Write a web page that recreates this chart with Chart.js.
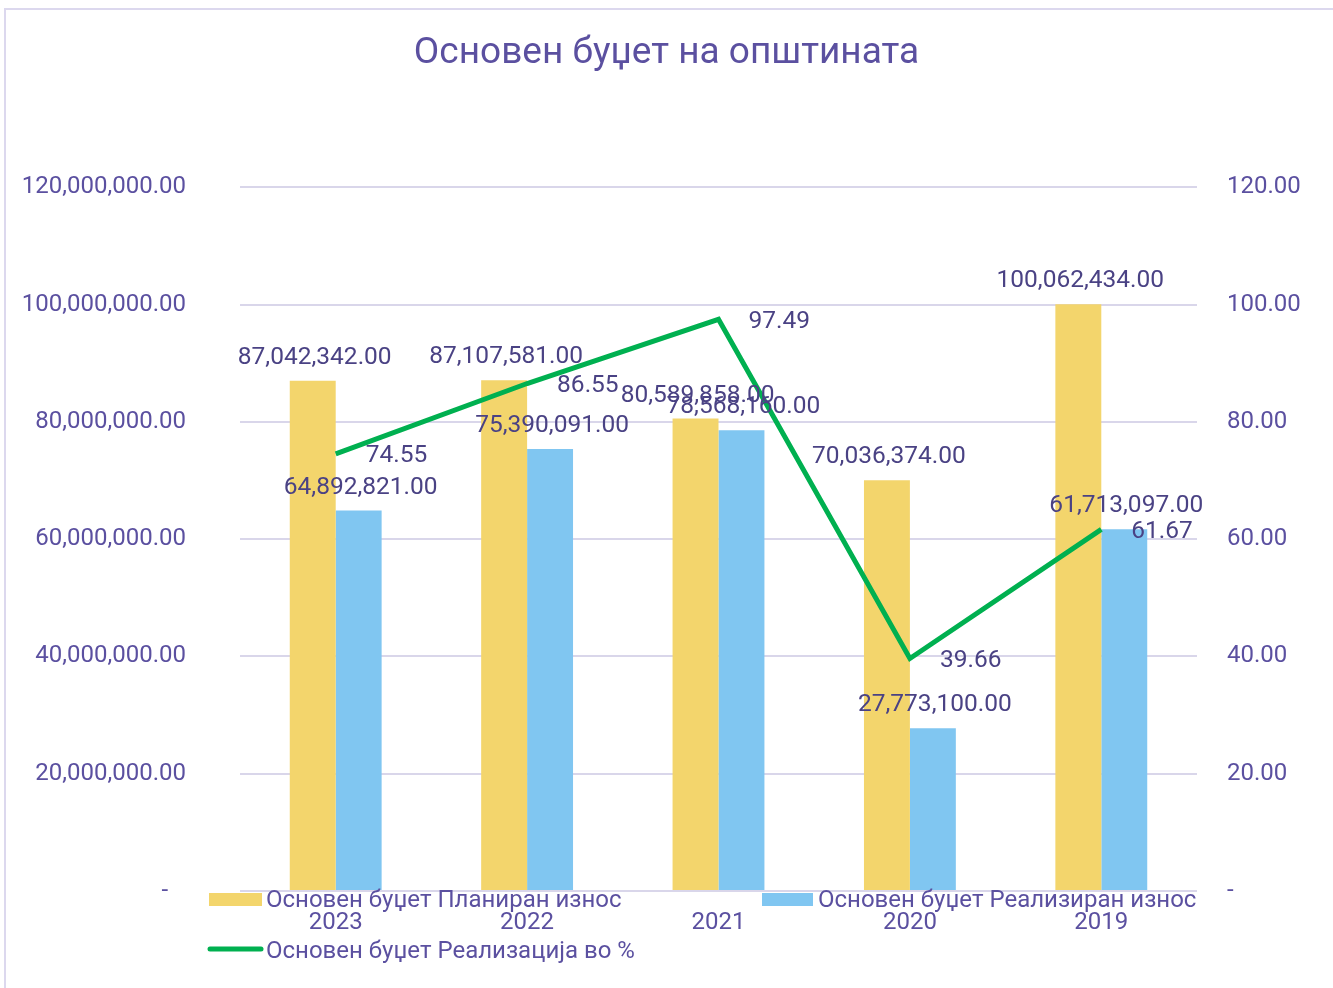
<!DOCTYPE html>
<html>
<head>
<meta charset="utf-8">
<script src="https://cdn.jsdelivr.net/npm/chart.js@4"></script>
<style>
  html, body { margin:0; padding:0; background:#fff; overflow:hidden; }
  #frame { position:absolute; left:4px; top:8px; width:1400px; height:1100px;
           border-left:2px solid #dcd8ee; border-top:2px solid #dcd8ee; }
  #wrap { position:absolute; left:0; top:0; width:1333px; height:988px; }
</style>
</head>
<body>
<div id="frame"></div>
<div id="wrap"><canvas id="budgetChart" width="1333" height="988"></canvas></div>
<script>
// ---- data ----
const years     = ['2023', '2022', '2021', '2020', '2019'];
const planned   = [87042342, 87107581, 80589858, 70036374, 100062434];
const realized  = [64892821, 75390091, 78568160, 27773100, 61713097];
const percent   = [74.55, 86.55, 97.49, 39.66, 61.67];

const seriesNames = [
  'Основен буџет Планиран износ',
  'Основен буџет Реализиран износ',
  'Основен буџет Реализација во %'
];

const TXT   = '#5b50a0';
const LBL   = '#4a4284';
const GRID  = '#d9d6ea';
const FONT  = 'Roboto, "Liberation Sans", sans-serif';

const money = v => v.toLocaleString('en-US', {minimumFractionDigits:2, maximumFractionDigits:2});

// data labels + legend drawn by hand (Excel-like placement)
const labelsPlugin = {
  id: 'labels',
  afterDatasetsDraw(chart) {
    const ctx = chart.ctx;
    ctx.save();
    ctx.font = '24.5px ' + FONT;
    ctx.fillStyle = LBL;
    ctx.textBaseline = 'middle';
    [0, 1].forEach(di => {
      chart.getDatasetMeta(di).data.forEach((bar, i) => {
        ctx.textAlign = 'center';
        ctx.fillText(money(chart.data.datasets[di].data[i]), bar.x + 2, bar.y - 23);
      });
    });
    chart.getDatasetMeta(2).data.forEach((pt, i) => {
      ctx.textAlign = 'left';
      ctx.fillText(percent[i].toFixed(2), pt.x + 30, pt.y + 2);
    });
    ctx.restore();
  },
  afterDraw(chart) {
    const ctx = chart.ctx;
    const ds = chart.data.datasets;
    ctx.save();
    ctx.font = '24px ' + FONT;
    ctx.textBaseline = 'middle';
    ctx.textAlign = 'left';
    // bar swatches
    ctx.fillStyle = ds[0].backgroundColor;
    ctx.fillRect(209, 893, 53, 13);
    ctx.fillStyle = ds[1].backgroundColor;
    ctx.fillRect(762, 893, 51, 13);
    // line swatch
    ctx.strokeStyle = ds[2].borderColor;
    ctx.lineWidth = 5;
    ctx.lineCap = 'round';
    ctx.beginPath(); ctx.moveTo(210, 949); ctx.lineTo(261, 949); ctx.stroke();
    ctx.fillStyle = TXT;
    ctx.fillText(ds[0].label, 266, 901);
    ctx.fillText(ds[1].label, 818, 901);
    ctx.fillText(ds[2].label, 266, 952);
    ctx.restore();
  }
};

new Chart(document.getElementById('budgetChart'), {
  data: {
    labels: years,
    datasets: [
      { type:'bar',  label:seriesNames[0], data:planned,  backgroundColor:'#f3d56c', yAxisID:'y',  order:2,
        barPercentage:1, categoryPercentage:0.48 },
      { type:'bar',  label:seriesNames[1], data:realized, backgroundColor:'#80c6f1', yAxisID:'y',  order:2,
        barPercentage:1, categoryPercentage:0.48 },
      { type:'line', label:seriesNames[2], data:percent,  borderColor:'#00b050', borderWidth:5,
        pointRadius:0, tension:0, yAxisID:'y1', order:0 }
    ]
  },
  options: {
    responsive:false, animation:false, devicePixelRatio:1,
    layout:{ padding:{ left:0, right:0, top:0, bottom:0 } },
    plugins:{
      legend:{ display:false },
      tooltip:{ enabled:false },
      title:{ display:true, text:'Основен буџет на општината', color:TXT,
              font:{ family:FONT, size:37, weight:'normal' }, padding:{ top:32, bottom:111 } }
    },
    scales:{
      x:{
        grid:{ display:false }, border:{ display:false },
        ticks:{ color:TXT, font:{ family:FONT, size:24 }, padding:10 },
        afterFit(s){ s.height = 97; }
      },
      y:{
        position:'left', min:0, max:120000000,
        grid:{ color:GRID, lineWidth:2, drawTicks:false }, border:{ display:false },
        ticks:{ stepSize:20000000, color:TXT, font:{ family:FONT, size:24 }, padding:54,
                callback: v => v === 0 ? '-   ' : money(v) },
        afterFit(s){ s.width = 240; }
      },
      y1:{
        position:'right', min:0, max:120,
        grid:{ display:false }, border:{ display:false },
        ticks:{ stepSize:20, color:TXT, font:{ family:FONT, size:24 }, padding:22,
                callback: v => v === 0 ? '-' : v.toFixed(2) },
        afterFit(s){ s.width = 136; }
      }
    }
  },
  plugins:[labelsPlugin]
});
</script>
</body>
</html>
